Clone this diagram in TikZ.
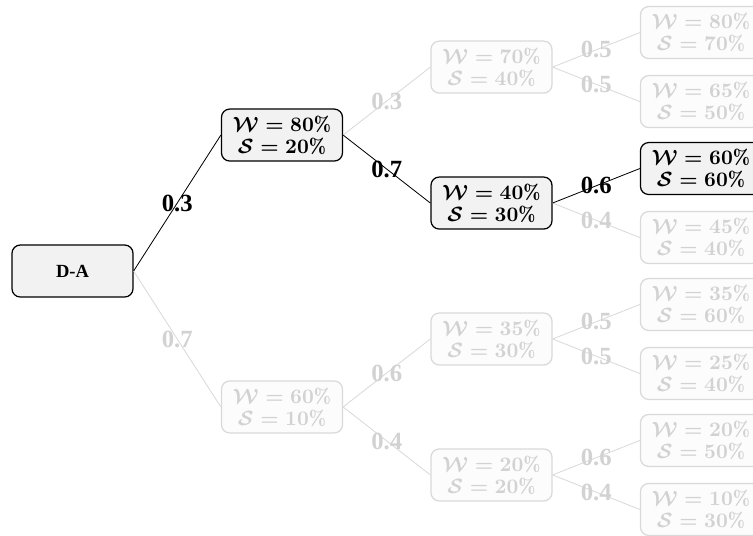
\documentclass[tikz,border=0pt]{standalone}
\usepackage{fontspec}
\newfontfamily\labfont{Liberation Serif}
\newcommand{\ws}[2]{$\mathcal{W} = #1\%$\\[-1.3pt]$\mathcal{S} = #2\%$}
\begin{document}
\begin{tikzpicture}[x=3.575cm,y=1cm,
                       main node/.style={rectangle,rounded corners=4pt,draw=black,line width=0.6pt,fill=gray!10,
                                         minimum width=2.065cm,minimum height=0.887cm,inner sep=1pt,align=center,font=\boldmath},
                       faded node/.style={main node,draw=gray!30,fill=gray!2,text=gray!35},
                       on/.style={draw=black,thin},
                       off/.style={draw=gray!30,thin},
                       prob/.style={font=\labfont\large\bfseries},
                       faded prob/.style={prob,text=gray!35}
                               ]
              \useasboundingbox (-1.237cm,-4.505cm) rectangle (11.613cm,4.625cm);
              % root and first level
              \node[main node,font=\labfont\small\bfseries] (0) at (0,0) {D-A};
              \node[main node] (1) at (1,2.32) {\ws{80}{20}};
              \node[faded node] (2) at (1,-2.32) {\ws{60}{10}};
              % second level
              \node[faded node] (11) at (2,3.48) {\ws{70}{40}};
              \node[main node] (12) at (2,1.16) {\ws{40}{30}};
              \node[faded node] (21) at (2,-1.16) {\ws{35}{30}};
              \node[faded node] (22) at (2,-3.48) {\ws{20}{20}};
              % third level
              \node[faded node] (111) at (3,4.069) {\ws{80}{70}};
              \node[faded node] (112) at (3,2.891) {\ws{65}{50}};
              \node[main node] (121) at (3,1.749) {\ws{60}{60}};
              \node[faded node] (122) at (3,0.571) {\ws{45}{40}};
              \node[faded node] (211) at (3,-0.571) {\ws{35}{60}};
              \node[faded node] (212) at (3,-1.749) {\ws{25}{40}};
              \node[faded node] (221) at (3,-2.891) {\ws{20}{50}};
              \node[faded node] (222) at (3,-4.069) {\ws{10}{30}};
              \path%
                (0.east) edge [off] node [faded prob] {0.7} (2.west)
                (1.east) edge [off] node [faded prob] {0.3} (11.west)
                (11.east) edge [off] node [faded prob] {0.5} (111.west)
                (11.east) edge [off] node [faded prob] {0.5} (112.west)
                (12.east) edge [off] node [faded prob] {0.4} (122.west)
                (2.east) edge [off] node [faded prob] {0.6} (21.west)
                (2.east) edge [off] node [faded prob] {0.4} (22.west)
                (21.east) edge [off] node [faded prob] {0.5} (211.west)
                (21.east) edge [off] node [faded prob] {0.5} (212.west)
                (22.east) edge [off] node [faded prob] {0.6} (221.west)
                (22.east) edge [off] node [faded prob] {0.4} (222.west);
              \path%
                (0.east) edge [on] node [prob] {0.3} (1.west)  % chosen path
                (1.east) edge [on] node [prob] {0.7} (12.west)
                (12.east) edge [on] node [prob] {0.6} (121.west);
          \end{tikzpicture}
\end{document}
